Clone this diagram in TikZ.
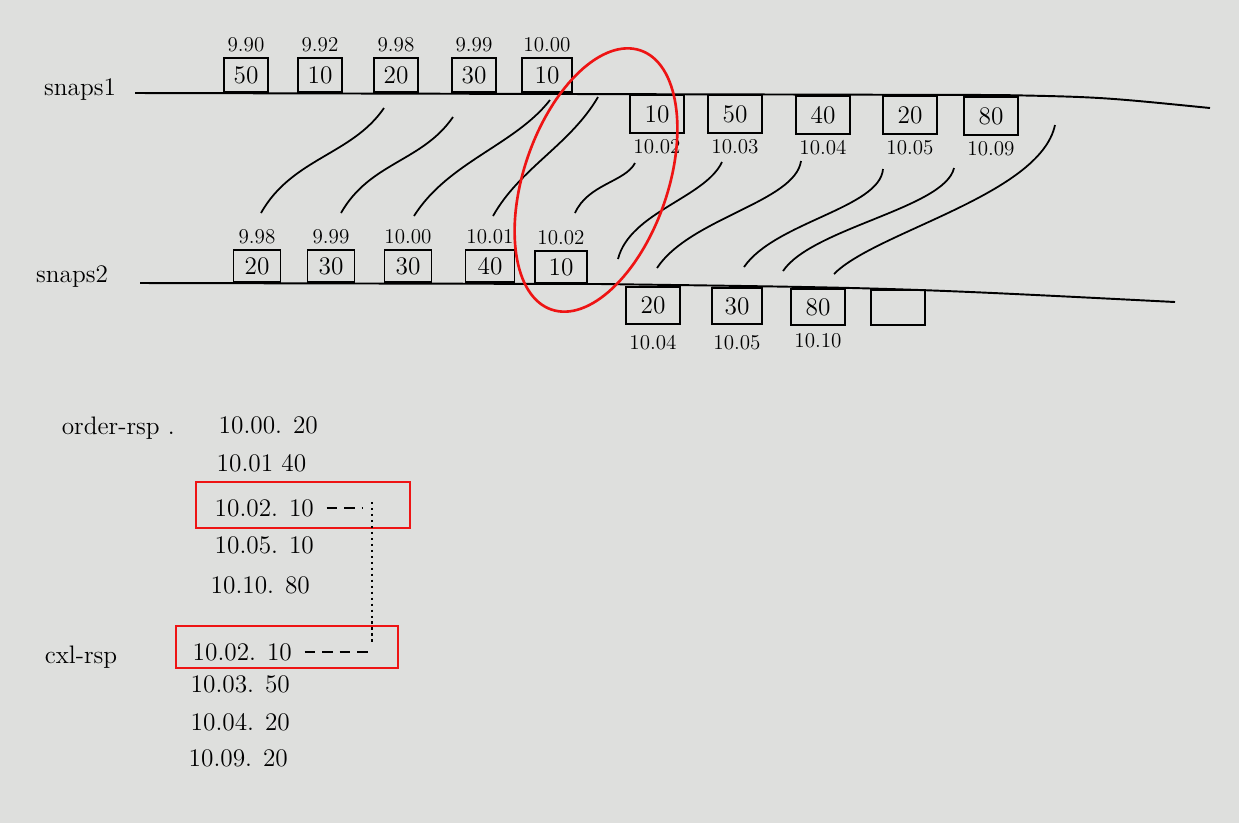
\documentclass[tikz,border=0pt]{standalone}
\usepackage{tikz}
\usetikzlibrary{positioning}

\definecolor{paper}{RGB}{222,223,221}
\definecolor{redpen}{RGB}{238,20,20}

\begin{document}
\begin{tikzpicture}[
    x=0.02cm, y=-0.02cm,
    line width=1.1pt,
    cell/.style={rectangle, draw, line width=1.1pt, minimum width=0.88cm, minimum height=0.68cm, inner sep=0pt, font=\Large},
    wcell/.style={cell, minimum width=1.08cm, minimum height=0.76cm},
    tm/.style={font=\large, inner sep=1pt},
    rsp/.style={anchor=west, font=\Large, inner sep=1pt},
    link/.style={line width=1pt},
    hl/.style={draw=redpen, line width=1.5pt},
    dsh/.style={dash pattern=on 6pt off 4pt},
  ]
  %% --- paper ---
  \fill[paper] (0,0) rectangle (1239,823);
  \useasboundingbox (0,0) rectangle (1239,823);

  %% --- snaps1 ---
  \node[font=\Large] (s1) at (80,90) {snaps1};
  \coordinate (s1a) at (135,93);
  \coordinate (s1b) at (1210,108);
  \draw (s1a) -- (1000,95) .. controls (1100,97) .. (s1b);
  % above the line
  \node[cell, anchor=south] (a1) at (246,93) {50};
  \node[tm, above=0.5mm of a1] (a1t) {9.90};
  \node[cell, anchor=south] (a2) at (320,93) {10};
  \node[tm, above=0.5mm of a2] (a2t) {9.92};
  \node[cell, anchor=south] (a3) at (396,93) {20};
  \node[tm, above=0.5mm of a3] (a3t) {9.98};
  \node[cell, anchor=south] (a4) at (474,93) {30};
  \node[tm, above=0.5mm of a4] (a4t) {9.99};
  \node[cell, anchor=south, minimum width=1cm] (a5) at (547,93) {10};
  \node[tm, above=0.5mm of a5] (a5t) {10.00};
  % below the line
  \node[wcell, anchor=north] (b1) at (657,94) {10};
  \node[tm, below=0.5mm of b1] (b1t) {10.02};
  \node[wcell, anchor=north] (b2) at (735,94) {50};
  \node[tm, below=0.5mm of b2] (b2t) {10.03};
  \node[wcell, anchor=north] (b3) at (823,95) {40};
  \node[tm, below=0.5mm of b3] (b3t) {10.04};
  \node[wcell, anchor=north] (b4) at (910,95) {20};
  \node[tm, below=0.5mm of b4] (b4t) {10.05};
  \node[wcell, anchor=north] (b5) at (991,96) {80};
  \node[tm, below=0.5mm of b5] (b5t) {10.09};

  %% --- snaps2 ---
  \node[font=\Large] (s2) at (72,277) {snaps2};
  \coordinate (s2a) at (140,283);
  \coordinate (s2b) at (1175,302);
  \draw (s2a) -- (600,284) .. controls (900,288) .. (s2b);
  % above the line
  \node[cell, anchor=south, minimum width=0.94cm, minimum height=0.64cm] (c1) at (257,283) {20};
  \node[tm, above=0.5mm of c1] (c1t) {9.98};
  \node[cell, anchor=south, minimum width=0.94cm, minimum height=0.64cm] (c2) at (331,283) {30};
  \node[tm, above=0.5mm of c2] (c2t) {9.99};
  \node[cell, anchor=south, minimum width=0.94cm, minimum height=0.64cm] (c3) at (408,283) {30};
  \node[tm, above=0.5mm of c3] (c3t) {10.00};
  \node[cell, anchor=south, minimum width=0.98cm, minimum height=0.64cm] (c4) at (490,283) {40};
  \node[tm, above=0.5mm of c4] (c4t) {10.01};
  \node[cell, anchor=south, minimum width=1.04cm, minimum height=0.64cm] (c5) at (561,284) {10};
  \node[tm, above=0.5mm of c5] (c5t) {10.02};
  % below the line
  \node[wcell, anchor=north, minimum height=0.74cm] (d1) at (653,286) {20};
  \node[tm, below=1.5mm of d1] (d1t) {10.04};
  \node[wcell, anchor=north, minimum width=1cm, minimum height=0.72cm] (d2) at (737,287) {30};
  \node[tm, below=1.5mm of d2] (d2t) {10.05};
  \node[wcell, anchor=north, minimum height=0.72cm] (d3) at (818,288) {80};
  \node[tm, below=1mm of d3] (d3t) {10.10};
  \node[wcell, anchor=north, minimum height=0.7cm] (d4) at (898,289) {};

  %% --- hand-drawn links between the two snaps ---
  \draw[link] (384,108) .. controls (352,155) and (292,158) .. (261,213);
  \draw[link] (453,117) .. controls (422,162) and (370,162) .. (341,213);
  \draw[link] (550,100) .. controls (515,145) and (448,162) .. (414,216);
  \draw[link] (598,97) .. controls (570,145) and (520,168) .. (493,216);
  \draw[link] (635,163) .. controls (625,182) and (588,184) .. (575,213);
  \draw[link] (722,162) .. controls (705,198) and (630,212) .. (618,259);
  \draw[link] (801,161) .. controls (795,202) and (690,218) .. (657,268);
  \draw[link] (883,169) .. controls (880,208) and (775,222) .. (744,267);
  \draw[link] (954,168) .. controls (945,208) and (812,228) .. (783,271);
  \draw[link] (1055,125) .. controls (1040,195) and (875,232) .. (834,274);

  %% --- red ring round 10.02 ---
  \draw[hl, rotate around={-19:(596,180)}] (596,180) ellipse [x radius=72, y radius=137];

  %% --- order-rsp ---
  \node[font=\Large, anchor=west] (ord) at (55,428) {order-rsp .};
  \node[rsp] (o1) at (216,425) {10.00. 20};
  \node[rsp] (o2) at (214,463) {10.01 40};
  \node[rsp] (o3) at (212,508) {10.02. 10};
  \node[rsp] (o4) at (212,545) {10.05. 10};
  \node[rsp] (o5) at (208,585) {10.10. 80};

  %% --- cxl-rsp ---
  \node[font=\Large, anchor=west] (cxl) at (38,657) {cxl-rsp};
  \node[rsp] (x1) at (190,652) {10.02. 10};
  \node[rsp] (x2) at (188,684) {10.03. 50};
  \node[rsp] (x3) at (188,722) {10.04. 20};
  \node[rsp] (x4) at (186,758) {10.09. 20};

  %% --- matching rows ---
  \draw[hl] (196,482) rectangle (410,528);
  \draw[hl] (176,626) rectangle (398,668);
  \coordinate (j1) at (372,502);
  \coordinate (j2) at (372,645);
  \draw[dsh] ([xshift=2mm]o3.east) -- ([xshift=-2mm]o3.east -| j1);
  \draw[dotted, line width=1.4pt] (j1) -- (j2);
  \draw[dsh] ([xshift=2mm]x1.east) -- (x1.east -| j2);
\end{tikzpicture}
\end{document}
